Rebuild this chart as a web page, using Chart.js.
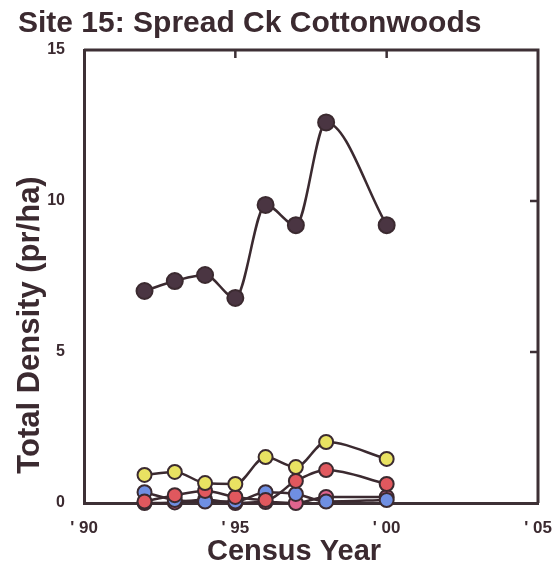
<!DOCTYPE html>
<html>
<head>
<meta charset="utf-8">
<script src="https://cdn.jsdelivr.net/npm/chart.js@4.4.1/dist/chart.umd.min.js"></script>
<style>
  html, body { margin: 0; padding: 0; background: #fff; }
  #wrap { width: 554px; height: 571px; }
</style>
</head>
<body>
<div id="wrap"><canvas id="chart" width="554" height="571"></canvas></div>
<script>
// census years and densities (pr/ha)
const years = [1992, 1993, 1994, 1995, 1996, 1997, 1998, 2000];
const total = [7.02, 7.35, 7.55, 6.79, 9.87, 9.2, 12.6, 9.2];
const yellowSp = [0.93, 1.03, 0.66, 0.63, 1.52, 1.19, 2.02, 1.46];
const redSp = [0.05, 0.26, 0.4, 0.2, 0.1, 0.73, 1.09, 0.63];
const blueSp = [0.36, 0.1, 0.05, 0.05, 0.36, 0.3, 0.05, 0.1];
const pinkSp = [0.0, 0.02, 0.12, 0.0, 0.03, 0.0, 0.2, 0.2];
const xTicks = [1990, 1995, 2000, 2005];
const yTicks = [0, 5, 10, 15];

const ink = '#3b2a30';
const family = '"Liberation Sans", Arial, sans-serif';
const font = s => 'bold ' + s + 'px ' + family;

const pts = vals => vals.map((v, i) => ({ x: years[i], y: v }));

const series = (data, fill, r, order) => ({
  data: pts(data),
  borderColor: ink,
  borderWidth: 2.5,
  pointBackgroundColor: fill,
  pointBorderColor: ink,
  pointBorderWidth: 2,
  pointRadius: r,
  cubicInterpolationMode: 'monotone',
  clip: false,
  order: order,
});

// frame: top/right border + inner ticks, plus axis titles
const framePlugin = {
  id: 'frame',
  afterDraw(chart) {
    const { ctx, chartArea: a, scales } = chart;
    ctx.save();
    ctx.strokeStyle = '#3d3035';
    ctx.lineWidth = 3;
    ctx.beginPath();
    ctx.moveTo(a.left, a.top);
    ctx.lineTo(a.right, a.top);
    ctx.lineTo(a.right, a.bottom);
    ctx.stroke();
    ctx.lineWidth = 2.5;
    xTicks.slice(1, -1).forEach(v => {
      const px = scales.x.getPixelForValue(v);
      ctx.beginPath();
      ctx.moveTo(px, a.top);
      ctx.lineTo(px, a.top + 8);
      ctx.stroke();
    });
    yTicks.slice(1, -1).forEach(v => {
      const py = scales.y.getPixelForValue(v);
      ctx.beginPath();
      ctx.moveTo(a.right, py);
      ctx.lineTo(a.right - 8, py);
      ctx.stroke();
    });

    ctx.fillStyle = ink;
    ctx.textAlign = 'center';
    ctx.textBaseline = 'middle';
    ctx.font = font(29);
    ctx.fillText('Census Year', 294, 552);
    ctx.font = font(31);
    ctx.translate(30, 325);
    ctx.rotate(-Math.PI / 2);
    ctx.fillText('Total Density (pr/ha)', 0, 0);
    ctx.restore();
  }
};

new Chart(document.getElementById('chart'), {
  type: 'line',
  data: {
    datasets: [
      series(total, '#4a3542', 8, 0),
      series(yellowSp, '#e9e262', 7, 1),
      series(redSp, '#e0585e', 7, 2),
      series(blueSp, '#6f8fe2', 7, 3),
      series(pinkSp, '#e0648e', 7, 4),
    ],
  },
  options: {
    responsive: false,
    animation: false,
    layout: { padding: { left: 18, right: 16, top: 0, bottom: 0 } },
    plugins: {
      legend: { display: false },
      tooltip: { enabled: false },
      title: {
        display: true,
        text: 'Site 15: Spread Ck Cottonwoods',
        align: 'start',
        color: ink,
        font: { family: family, size: 30, weight: 'bold', lineHeight: 1.1 },
        padding: { top: 7, bottom: 10 },
      },
    },
    scales: {
      x: {
        type: 'linear',
        min: 1990,
        max: 2005,
        afterBuildTicks: s => { s.ticks = xTicks.map(v => ({ value: v })); },
        afterFit: s => { s.height = 68; s.paddingLeft = 0; s.paddingRight = 0; },
        grid: { display: false, drawTicks: false },
        border: { display: true, color: '#3d3035', width: 3 },
        ticks: {
          color: ink,
          padding: 15,
          maxRotation: 0,
          font: { family: family, size: 17, weight: 'bold' },
          callback: v => "' " + String(v).slice(2),
        },
      },
      y: {
        min: 0,
        max: 15,
        afterBuildTicks: s => { s.ticks = yTicks.map(v => ({ value: v })); },
        afterFit: s => { s.width = 66; },
        grid: { display: false, drawTicks: false },
        border: { display: true, color: '#3d3035', width: 3 },
        ticks: {
          color: ink,
          padding: 19,
          font: { family: family, size: 16, weight: 'bold' },
        },
      },
    },
  },
  plugins: [framePlugin],
});
</script>
</body>
</html>
